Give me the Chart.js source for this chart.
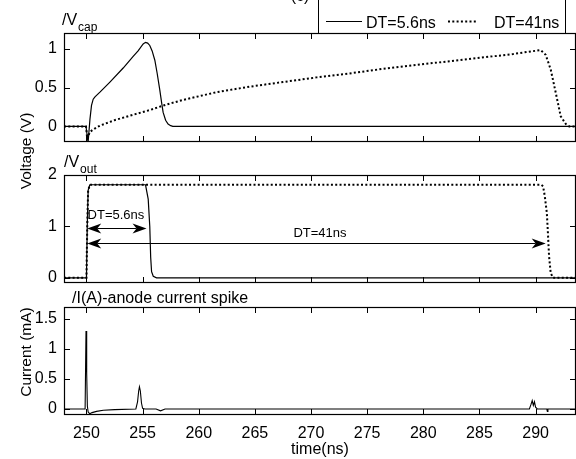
<!DOCTYPE html>
<html><head><meta charset="utf-8">
<script src="https://cdn.jsdelivr.net/npm/chart.js@4"></script>
<style>
html,body{margin:0;padding:0;background:#fff;}
#wrap{position:relative;width:576px;height:459px;overflow:hidden;font-family:"Liberation Sans",Arial,sans-serif;color:#000;}
canvas{position:absolute;left:0;}
.ytitle{position:absolute;font-size:15.5px;line-height:16px;white-space:nowrap;transform:translate(-50%,-50%) rotate(-90deg);}
</style></head><body>
<div id="wrap">
<canvas id="c1" width="576" height="150" style="top:0"></canvas>
<canvas id="c2" width="576" height="140" style="top:150px"></canvas>
<canvas id="c3" width="576" height="169" style="top:290px"></canvas>
<div class="ytitle" style="left:26px;top:151px">Voltage (V)</div>
<div class="ytitle" style="left:26px;top:352px">Current (mA)</div>
</div>
<script>
// ---------- data ----------
const seriesNames = ['DT=5.6ns', 'DT=41ns'];
const xTickVals = [250, 255, 260, 265, 270, 275, 280, 285, 290];
const capTicks = [0, 0.5, 1];
const outTicks = [0, 1, 2];
const curTicks = [0, 0.5, 1, 1.5];

// V_cap, DT=5.6ns (solid)
const capTimeA = [248, 249.96, 250.05, 250.16, 250.31, 250.45, 250.6, 250.76, 251.2, 252.09, 253.27, 254.16, 254.6, 255.05, 255.26, 255.45, 255.64, 255.85, 256.09, 256.3, 256.53, 256.7, 256.83, 257.05, 257.27, 257.5, 257.69, 293.6];
const capVoltA = [0, 0, -0.1, -0.18, 0.09, 0.27, 0.35, 0.38, 0.44, 0.57, 0.75, 0.9, 0.97, 1.06, 1.08, 1.07, 1.04, 0.97, 0.85, 0.68, 0.47, 0.3, 0.18, 0.08, 0.03, 0.01, 0, 0];
// V_cap, DT=41ns (dotted)
const capTimeB = [248, 249.96, 250.07, 250.31, 250.7, 251.2, 252.5, 254.16, 255.64, 257.1, 258.6, 260.1, 261.57, 264.5, 267.5, 270.5, 273.4, 276.4, 279.35, 282.5, 285.87, 288, 289.4, 290.46, 290.9, 291.35, 291.8, 292.24, 292.7, 293.0, 293.6];
const capVoltB = [0, 0, -0.16, -0.07, -0.03, 0.01, 0.08, 0.15, 0.21, 0.28, 0.34, 0.39, 0.44, 0.51, 0.57, 0.63, 0.68, 0.74, 0.79, 0.84, 0.895, 0.93, 0.96, 0.98, 0.92, 0.73, 0.43, 0.13, 0.03, 0, 0];

// V_out, DT=5.6ns (solid)
const outTimeA = [248, 250.0, 250.07, 250.15, 250.3, 255.26, 255.5, 255.64, 255.72, 255.8, 255.95, 256.24, 293.6];
const outVoltA = [0, 0, 1.0, 1.7, 1.81, 1.81, 1.53, 1.0, 0.4, 0.12, 0.03, 0, 0];
// V_out, DT=41ns (dotted)
const outTimeB = [248, 250.0, 250.07, 250.15, 250.3, 290.5, 290.67, 290.82, 291.0, 291.1, 291.2, 291.35, 291.56, 293.6];
const outVoltB = [0, 0, 1.0, 1.7, 1.81, 1.81, 1.78, 1.59, 1.27, 0.87, 0.42, 0.09, 0, 0];

// anode current
const curTime = [248, 249.88, 249.96, 250.02, 250.08, 250.15, 250.3, 250.5, 250.9, 251.5, 252.5, 254.4, 254.55, 254.65, 254.72, 254.8, 254.9, 255.0, 255.2, 256.2, 256.6, 257.0, 289.45, 289.6, 289.7, 289.8, 289.9, 290.0, 290.15, 291.0, 291.05, 291.1, 293.6];
const curVal  = [0, 0, 1.3, 0.6, 0.05, -0.05, -0.08, -0.06, -0.04, -0.02, -0.01, 0, 0.12, 0.3, 0.37, 0.3, 0.1, 0.01, 0, 0, -0.03, 0, 0, 0.08, 0.14, 0.06, 0.12, 0.03, 0, 0, -0.04, 0, 0];

// DT annotation arrows (data units of the V_out panel)
const arrowLabels = ['DT=5.6ns', 'DT=41ns'];
const arrowFrom = [250.07, 250.07];
const arrowTo = [255.35, 290.9];
const arrowY = [0.96, 0.68];
const arrowLabelX = [250.1, 270.8];
const arrowLabelY = [1.22, 0.87];

// ---------- drawing ----------
const FONT = '"Liberation Sans", Arial, sans-serif';
function pts(xs, ys) { return xs.map((x, i) => ({x: x, y: ys[i]})); }

function datasets(tA, vA, tB, vB) {
  return [
    {label: seriesNames[0], data: pts(tA, vA), borderColor: '#000', borderWidth: 1.2, pointRadius: 0, tension: 0, fill: false},
    {label: seriesNames[1], data: pts(tB, vB), borderColor: '#000', borderWidth: 2, borderDash: [2, 2.3], pointRadius: 0, tension: 0, fill: false}
  ];
}

const framePlugin = {
  id: 'frame',
  afterDraw(chart, args, opts) {
    const ctx = chart.ctx, a = chart.chartArea;
    const xs = chart.scales.x, ys = chart.scales.y;
    ctx.save();
    ctx.strokeStyle = '#000';
    ctx.lineWidth = 1.2;
    ctx.strokeRect(a.left + 0.5, a.top + 0.5, a.right - a.left - 1, a.bottom - a.top - 1);
    ctx.lineWidth = 1;
    ctx.beginPath();
    xTickVals.forEach(v => {
      const p = Math.round(xs.getPixelForValue(v)) + 0.5;
      ctx.moveTo(p, a.bottom); ctx.lineTo(p, a.bottom - 6);
      ctx.moveTo(p, a.top); ctx.lineTo(p, a.top + 6);
    });
    (opts.yTicks || []).forEach(v => {
      const p = Math.round(ys.getPixelForValue(v)) + 0.5;
      ctx.moveTo(a.left, p); ctx.lineTo(a.left + 6, p);
      ctx.moveTo(a.right, p); ctx.lineTo(a.right - 6, p);
    });
    ctx.stroke();
    // panel label
    if (opts.label) {
      ctx.fillStyle = '#000';
      ctx.textBaseline = 'alphabetic';
      ctx.textAlign = 'left';
      ctx.font = '16px ' + FONT;
      ctx.fillText(opts.label, opts.lx, opts.ly);
      if (opts.sub) {
        const w = ctx.measureText(opts.label).width;
        ctx.font = '12px ' + FONT;
        ctx.fillText(opts.sub, opts.lx + w + 1, opts.ly + 6);
      }
    }
    ctx.restore();
  }
};

const legendPlugin = {
  id: 'boxLegend',
  afterDraw(chart, args, opts) {
    if (!opts.show) return;
    const ctx = chart.ctx;
    const ds = chart.data.datasets;
    ctx.save();
    ctx.strokeStyle = '#000';
    ctx.lineWidth = 1;
    ctx.beginPath();
    ctx.moveTo(318.5, 0); ctx.lineTo(318.5, 33);
    ctx.moveTo(565.5, 0); ctx.lineTo(565.5, 33);
    ctx.stroke();
    const items = [{x0: 326, x1: 362, tx: 366}, {x0: 448, x1: 478, tx: 494}];
    items.forEach((it, i) => {
      ctx.lineWidth = ds[i].borderWidth;
      ctx.setLineDash(ds[i].borderDash || []);
      ctx.beginPath();
      ctx.moveTo(it.x0, 21.5); ctx.lineTo(it.x1, 21.5);
      ctx.stroke();
      ctx.setLineDash([]);
      ctx.fillStyle = '#000';
      ctx.font = '16px ' + FONT;
      ctx.textBaseline = 'alphabetic';
      ctx.textAlign = 'left';
      ctx.fillText(ds[i].label, it.tx, 28);
    });
    // partially visible subplot title
    ctx.textAlign = 'center';
    ctx.fillText('(c)', 300, 1);
    ctx.restore();
  }
};

const arrowPlugin = {
  id: 'dtArrows',
  afterDraw(chart, args, opts) {
    if (!opts.show) return;
    const ctx = chart.ctx, xs = chart.scales.x, ys = chart.scales.y;
    ctx.save();
    ctx.strokeStyle = '#000'; ctx.fillStyle = '#000'; ctx.lineWidth = 1;
    function head(x, y, dir) {
      ctx.beginPath();
      ctx.moveTo(x, y);
      ctx.lineTo(x + dir * 14, y - 5);
      ctx.lineTo(x + dir * 10, y);
      ctx.lineTo(x + dir * 14, y + 5);
      ctx.closePath();
      ctx.fill();
    }
    arrowLabels.forEach((lab, i) => {
      const x0 = xs.getPixelForValue(arrowFrom[i]);
      const x1 = xs.getPixelForValue(arrowTo[i]);
      const y = Math.round(ys.getPixelForValue(arrowY[i])) + 0.5;
      ctx.beginPath(); ctx.moveTo(x0 + 10, y); ctx.lineTo(x1 - 10, y); ctx.stroke();
      head(x0, y, 1); head(x1, y, -1);
      ctx.font = '13px ' + FONT;
      ctx.textBaseline = 'middle';
      ctx.textAlign = i === 0 ? 'left' : 'center';
      ctx.fillText(lab, xs.getPixelForValue(arrowLabelX[i]), ys.getPixelForValue(arrowLabelY[i]));
    });
    ctx.restore();
  }
};

function options(yMin, yMax, yTicks, showX, pad, frameOpts, extra) {
  const o = {
    responsive: false, animation: false, events: [],
    layout: {padding: pad},
    plugins: Object.assign({legend: {display: false}, tooltip: {enabled: false}, frame: Object.assign({yTicks: yTicks}, frameOpts)}, extra),
    scales: {
      x: {
        type: 'linear', min: 248, max: 293.6, display: showX,
        grid: {display: false}, border: {display: false},
        afterBuildTicks: s => { s.ticks = xTickVals.map(v => ({value: v})); },
        afterFit: s => { s.height = showX ? 44 : 0; s.paddingLeft = 0; s.paddingRight = 0; },
        ticks: {autoSkip: false, maxRotation: 0, padding: 1, color: '#000', font: {size: 16, family: FONT}, callback: v => String(v)},
        title: {display: true, text: 'time(ns)', color: '#000', font: {size: 16, family: FONT}, padding: {top: 0, bottom: 0}}
      },
      y: {
        type: 'linear', min: yMin, max: yMax,
        grid: {display: false, drawTicks: false}, border: {display: false},
        afterBuildTicks: s => { s.ticks = yTicks.map(v => ({value: v})); },
        afterFit: s => { s.width = 64; s.paddingTop = 0; s.paddingBottom = 0; },
        ticks: {padding: 7, color: '#000', font: {size: 16, family: FONT}, callback: v => String(v)}
      }
    }
  };
  return o;
}

const plugins = [framePlugin, legendPlugin, arrowPlugin];

new Chart(document.getElementById('c1'), {
  type: 'line',
  data: {datasets: datasets(capTimeA, capVoltA, capTimeB, capVoltB)},
  options: options(-0.2, 1.2, capTicks, false, {top: 33, bottom: 8, left: 0, right: 0},
    {label: '/V', sub: 'cap', lx: 62, ly: 25}, {boxLegend: {show: true}, dtArrows: {show: false}}),
  plugins: plugins
});

new Chart(document.getElementById('c2'), {
  type: 'line',
  data: {datasets: datasets(outTimeA, outVoltA, outTimeB, outVoltB)},
  options: options(-0.1, 2, outTicks, false, {top: 25, bottom: 7, left: 0, right: 0},
    {label: '/V', sub: 'out', lx: 64, ly: 17}, {boxLegend: {show: false}, dtArrows: {show: true}}),
  plugins: plugins
});

new Chart(document.getElementById('c3'), {
  type: 'line',
  data: {datasets: [{label: 'I(A)', data: pts(curTime, curVal), borderColor: '#000', borderWidth: 1.1, pointRadius: 0, tension: 0, fill: false}]},
  options: options(-0.1, 1.7, curTicks, true, {top: 17, bottom: 0, left: 0, right: 0},
    {label: '/I(A)-anode current spike', lx: 72, ly: 13}, {boxLegend: {show: false}, dtArrows: {show: false}}),
  plugins: plugins
});
</script>
</body></html>
